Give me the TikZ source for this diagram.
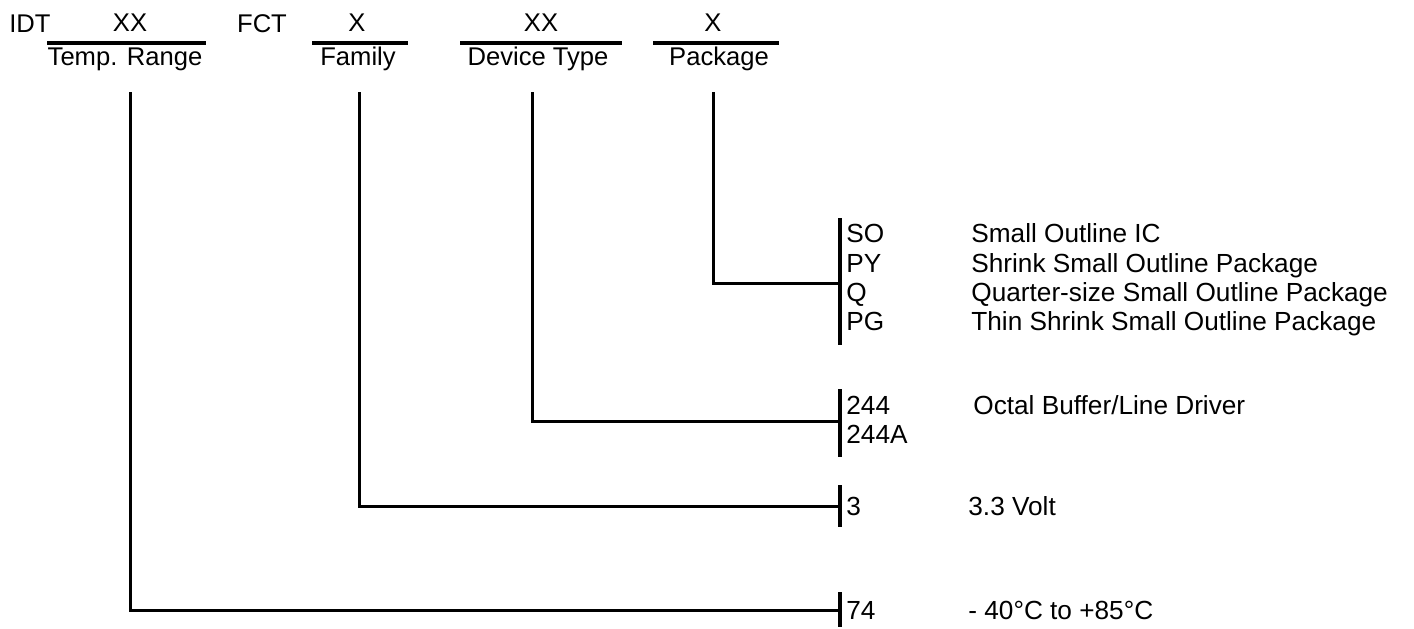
\documentclass[tikz,border=0pt]{standalone}
\usepackage{fontspec}
\setmainfont{Liberation Sans}
\usetikzlibrary{positioning}

\tikzset{
	head/.style={inner sep=0pt, anchor=base, font=\fontsize{12.8}{15}\selectfont},
	code/.style={inner sep=0pt, anchor=base west, font=\fontsize{13.1}{15}\selectfont},
	conn/.style={line width=1.5pt},
	bar/.style={line width=1.8pt},
	rule/.style={line width=2pt},
}

\begin{document}
\begin{tikzpicture}[x=0.5pt,y=-0.5pt]
	\useasboundingbox (0,0) rectangle (1414,628);

	% Header
	\node [head] (idt) at (30,32) {IDT};
	\node [head] (tempx) at (130,31) {XX};
	\node [head] (fct) at (262,32) {FCT};
	\node [head] (famx) at (357,31) {X};
	\node [head] (devx) at (541,31) {XX};
	\node [head] (pkgx) at (713,31) {X};

	\draw [rule] (47,43) -- (206,43);
	\draw [rule] (312,43) -- (408,43);
	\draw [rule] (460,43) -- (622,43);
	\draw [rule] (653,43) -- (779,43);

	\node [head] (temp) at (125,65) {Temp. Range};
	\node [head] (fam) at (358,65) {Family};
	\node [head] (dev) at (538,65) {Device Type};
	\node [head] (pkg) at (719,65) {Package};

	% Connectors
	\coordinate (temptop) at (130,92);
	\coordinate (famtop) at (359,92);
	\coordinate (devtop) at (532,92);
	\coordinate (pkgtop) at (713,92);

	\coordinate (tempbr) at (840,610);
	\coordinate (fambr) at (840,506);
	\coordinate (devbr) at (840,421);
	\coordinate (pkgbr) at (840,283);

	\draw [conn] (temptop) |- (tempbr);
	\draw [conn] (famtop) |- (fambr);
	\draw [conn] (devtop) |- (devbr);
	\draw [conn] (pkgtop) |- (pkgbr);

	% Brackets
	\draw [bar] (840,218) -- (840,345);
	\draw [bar] (840,389) -- (840,457);
	\draw [bar] (840,485) -- (840,527);
	\draw [bar] (840,592) -- (840,627);

	% Package
	\node [code] (so) at (846,242) {SO};
	\node [code] (py) at (846,272) {PY};
	\node [code] (q) at (846,301.5) {Q};
	\node [code] (pg) at (846,330) {PG};
	\node [code] (sotxt) at (971,242) {Small Outline IC};
	\node [code] (pytxt) at (971,272) {Shrink Small Outline Package};
	\node [code] (qtxt) at (971,301.5) {Quarter-size Small Outline Package};
	\node [code] (pgtxt) at (971,330) {Thin Shrink Small Outline Package};

	% Device type
	\node [code] (d244) at (846,414) {244};
	\node [code] (d244a) at (846,443) {244A};
	\node [code] (devtxt) at (973,414) {Octal Buffer/Line Driver};

	% Family
	\node [code] (f3) at (846,515) {3};
	\node [code] (famtxt) at (968,515) {3.3 Volt};

	% Temp. range
	\node [code] (t74) at (846,619) {74};
	\node [code] (temptxt) at (968,619) {- 40°C to +85°C};
\end{tikzpicture}
\end{document}
